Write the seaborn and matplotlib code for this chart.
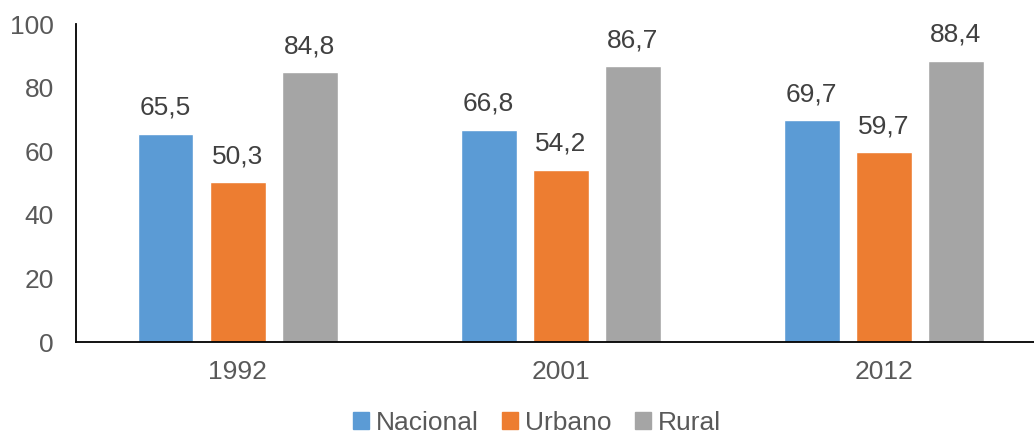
import matplotlib
matplotlib.use('Agg')
import matplotlib.pyplot as plt
import pandas as pd
import seaborn as sns

# valores
anios = ['1992', '2001', '2012']
nacional = [65.5, 66.8, 69.7]
urbano = [50.3, 54.2, 59.7]
rural = [84.8, 86.7, 88.4]
series = ['Nacional', 'Urbano', 'Rural']
colores = ['#5B9BD5', '#ED7D31', '#A5A5A5']

df = pd.DataFrame({
    'anio': anios * 3,
    'serie': [s for s in series for _ in anios],
    'valor': nacional + urbano + rural,
})

sns.set_style('white')
plt.rcParams['font.family'] = ['Liberation Sans', 'DejaVu Sans']

fig = plt.figure(figsize=(10.34, 4.36), dpi=100)
ax = fig.add_axes([76 / 1034, 1 - 342 / 436, 1 - 76 / 1034, (342 - 24) / 436])

sns.barplot(data=df, x='anio', y='valor', hue='serie', hue_order=series,
            palette=colores, width=0.669, gap=0.224, saturation=1,
            legend=False, ax=ax)

for cont in ax.containers:
    ax.bar_label(cont, labels=[f'{v:.1f}'.replace('.', ',') for v in cont.datavalues],
                 padding=10, fontsize=19, color='#404040')

ax.set_ylim(0, 100)
ax.set_yticks(range(0, 101, 20))
ax.set_xlim(-0.5, 2.5 - 11.5 / 323)
ax.set_xlabel('')
ax.set_ylabel('')
ax.tick_params(axis='y', length=0, pad=16, labelsize=19, labelcolor='#595959')
ax.tick_params(axis='x', length=0, pad=13, labelsize=19, labelcolor='#595959')
for s in ['top', 'right']:
    ax.spines[s].set_visible(False)
for s in ['left', 'bottom']:
    ax.spines[s].set_color('black')
    ax.spines[s].set_linewidth(1.3)

handles = [plt.Rectangle((0, 0), 1, 1, color=c) for c in colores]
fig.legend(handles, series, loc='center', bbox_to_anchor=(537 / 1034, 1 - 423 / 436),
           ncol=3, frameon=False, fontsize=19, labelcolor='#595959',
           handlelength=0.6, handleheight=0.6, handletextpad=0.25, columnspacing=0.9,
           borderpad=0)

fig.savefig('out.png', dpi=100)
